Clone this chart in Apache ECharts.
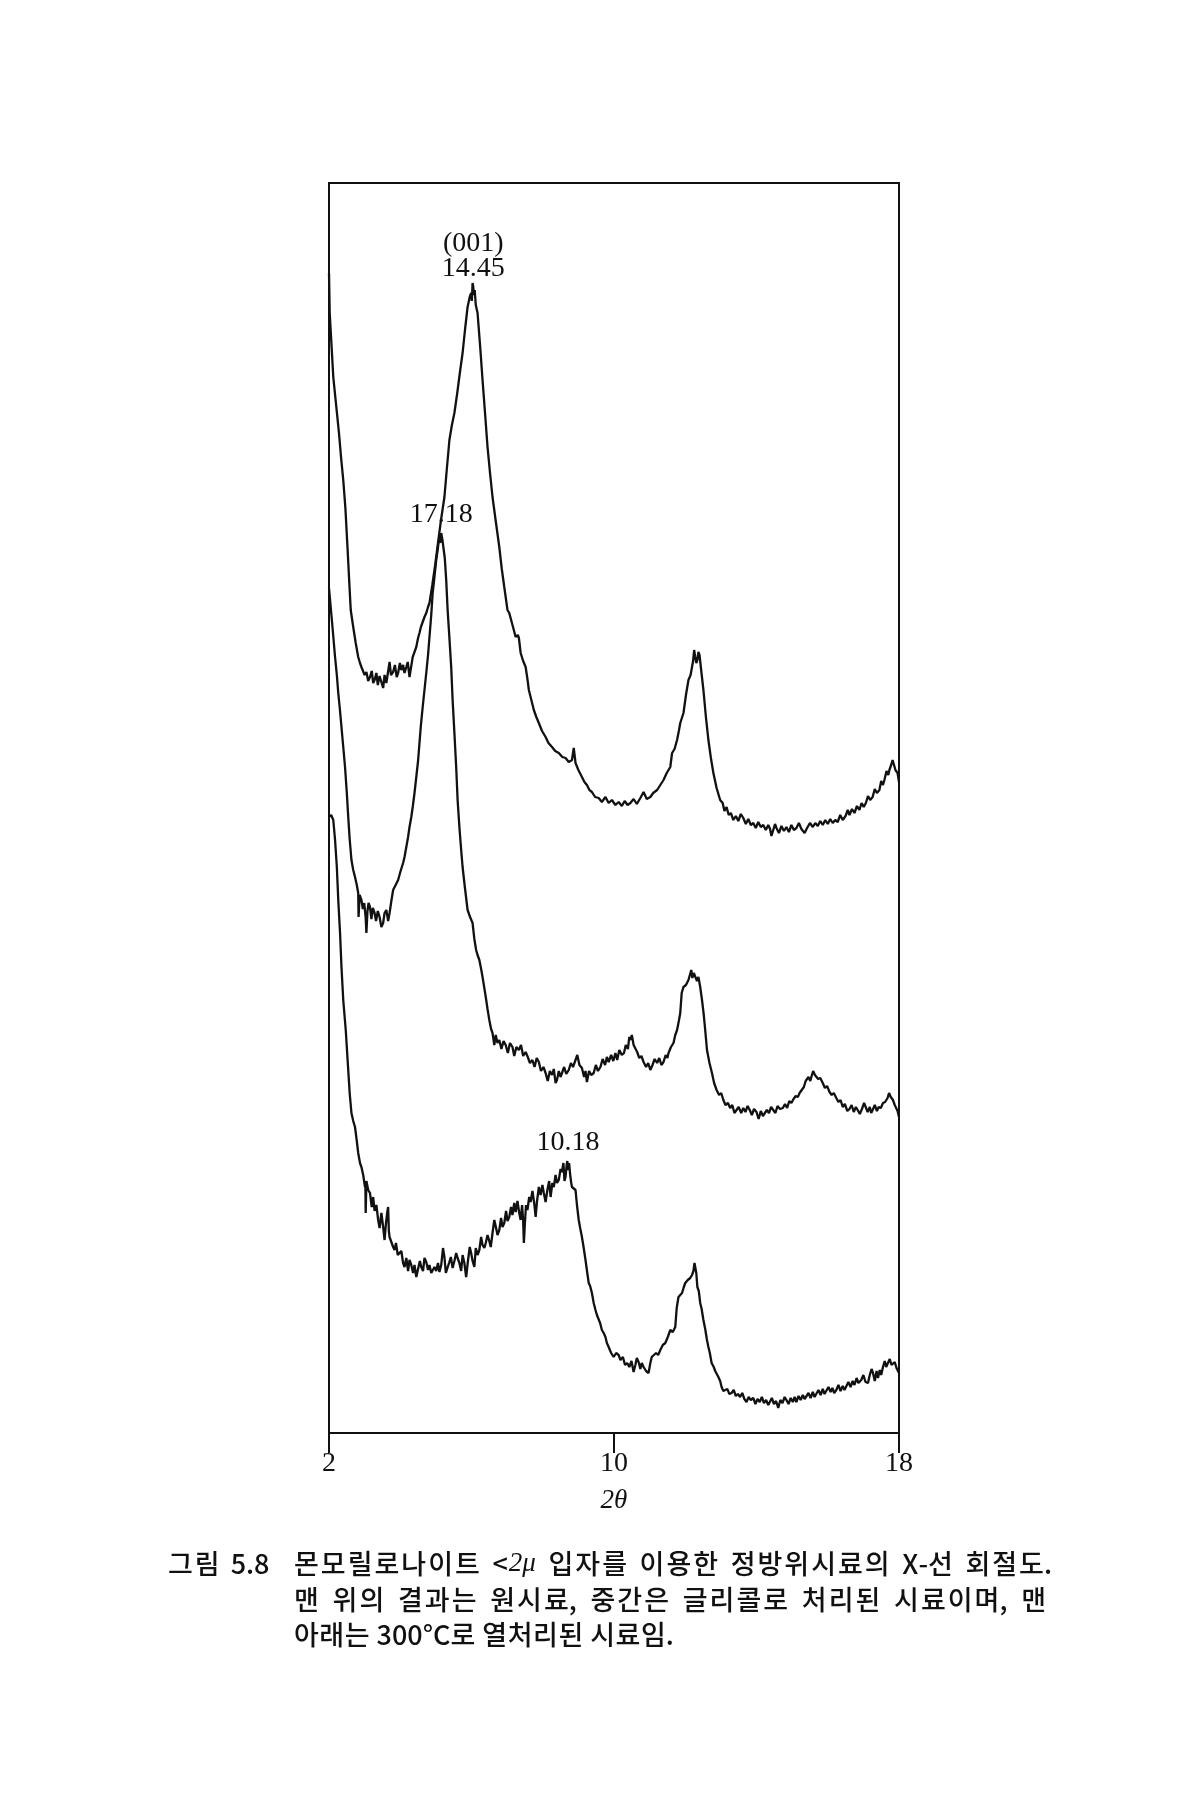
<!DOCTYPE html>
<html>
<head>
<meta charset="utf-8">
<script src="https://cdn.jsdelivr.net/npm/echarts@6/dist/echarts.min.js"></script>
<style>
html,body{margin:0;padding:0;background:#fff;}
#chart{width:1200px;height:1800px;}
</style>
</head>
<body>
<div id="chart"></div>
<script>
// ---- data (2θ in degrees, intensity in arbitrary units) ----
const originalSample = [[2.00,1160],[2.02,1120],[2.07,1088],[2.12,1056],[2.20,1028],[2.28,1000],[2.34,975],[2.40,953],[2.46,925],[2.52,885],[2.57,850],[2.61,823],[2.68,806],[2.75,790],[2.82,776],[2.87,770],[2.91,766],[2.96,764],[3.00,758],[3.05,761],[3.10,752],[3.15,756],[3.20,762],[3.24,750],[3.28,753],[3.33,760],[3.37,748],[3.42,757],[3.47,751],[3.52,745],[3.56,758],[3.61,750],[3.66,752],[3.70,771],[3.74,758],[3.80,761],[3.85,768],[3.90,756],[3.94,760],[3.99,770],[4.03,763],[4.08,768],[4.12,760],[4.17,766],[4.21,771],[4.26,756],[4.30,765],[4.35,776],[4.40,781],[4.45,786],[4.50,795],[4.54,800],[4.58,806],[4.63,811],[4.68,816],[4.73,820],[4.78,826],[4.82,830],[4.90,848],[4.98,868],[5.06,890],[5.14,912],[5.24,936],[5.31,965],[5.38,993],[5.45,1008],[5.52,1020],[5.60,1040],[5.68,1062],[5.75,1080],[5.82,1104],[5.89,1126],[5.95,1136],[5.99,1140],[6.01,1132],[6.03,1150],[6.05,1146],[6.07,1138],[6.09,1143],[6.12,1128],[6.17,1120],[6.24,1088],[6.31,1053],[6.38,1020],[6.45,986],[6.52,960],[6.59,936],[6.68,912],[6.78,886],[6.85,864],[6.92,846],[7.01,823],[7.06,820],[7.15,808],[7.24,796],[7.30,798],[7.33,795],[7.38,780],[7.45,772],[7.52,766],[7.57,754],[7.61,743],[7.68,733],[7.75,723],[7.82,716],[7.89,710],[7.98,702],[8.08,696],[8.16,690],[8.26,686],[8.35,682],[8.45,680],[8.55,676],[8.64,675],[8.73,671],[8.82,673],[8.87,685],[8.92,670],[9.00,663],[9.10,656],[9.17,651],[9.24,648],[9.31,643],[9.38,641],[9.47,636],[9.57,635],[9.66,631],[9.76,636],[9.85,630],[9.94,633],[10.04,628],[10.13,631],[10.22,627],[10.30,632],[10.38,628],[10.46,630],[10.55,634],[10.64,629],[10.74,635],[10.83,641],[10.92,634],[11.02,636],[11.10,640],[11.21,643],[11.30,648],[11.39,653],[11.48,660],[11.58,666],[11.63,680],[11.70,684],[11.77,693],[11.82,702],[11.86,710],[11.95,720],[12.02,738],[12.09,753],[12.15,758],[12.19,760],[12.22,772],[12.25,783],[12.28,776],[12.31,770],[12.34,773],[12.37,781],[12.40,778],[12.45,762],[12.51,743],[12.58,716],[12.65,693],[12.72,675],[12.79,660],[12.88,645],[12.98,633],[13.05,630],[13.10,622],[13.16,626],[13.22,618],[13.28,620],[13.35,613],[13.42,617],[13.49,612],[13.56,619],[13.63,615],[13.70,609],[13.77,614],[13.84,608],[13.91,610],[13.98,605],[14.05,611],[14.12,606],[14.19,608],[14.26,603],[14.33,608],[14.38,604],[14.42,597],[14.47,603],[14.52,609],[14.56,605],[14.63,600],[14.70,607],[14.77,602],[14.84,606],[14.91,601],[14.98,608],[15.05,603],[15.12,605],[15.19,610],[15.26,604],[15.31,606],[15.35,600],[15.42,605],[15.50,610],[15.58,606],[15.65,610],[15.72,607],[15.79,612],[15.86,608],[15.93,613],[16.00,609],[16.07,614],[16.14,610],[16.21,613],[16.28,611],[16.35,618],[16.42,613],[16.50,617],[16.56,623],[16.61,618],[16.68,624],[16.75,620],[16.82,627],[16.89,623],[16.95,630],[17.01,626],[17.07,630],[17.13,637],[17.19,633],[17.26,636],[17.32,644],[17.38,640],[17.45,643],[17.50,652],[17.55,648],[17.59,653],[17.65,662],[17.70,658],[17.73,663],[17.78,668],[17.82,673],[17.86,668],[17.90,663],[17.96,660],[18.00,651]];

const glycolSample = [[2.00,845],[2.03,833],[2.10,805],[2.17,776],[2.22,758],[2.26,740],[2.31,722],[2.35,706],[2.40,686],[2.45,666],[2.50,640],[2.54,616],[2.58,594],[2.63,573],[2.68,563],[2.73,556],[2.78,548],[2.82,540],[2.83,516],[2.86,538],[2.91,533],[2.95,524],[2.99,530],[3.03,515],[3.05,500],[3.08,522],[3.11,530],[3.15,526],[3.19,514],[3.23,525],[3.28,520],[3.32,512],[3.37,522],[3.42,516],[3.47,506],[3.52,510],[3.56,520],[3.61,523],[3.66,512],[3.70,520],[3.75,532],[3.80,543],[3.87,548],[3.94,553],[4.01,562],[4.08,570],[4.12,576],[4.17,586],[4.22,596],[4.26,606],[4.31,616],[4.35,626],[4.40,640],[4.45,656],[4.50,672],[4.54,690],[4.58,708],[4.63,726],[4.68,743],[4.73,760],[4.78,778],[4.82,796],[4.87,818],[4.91,840],[4.96,856],[5.01,873],[5.05,883],[5.08,892],[5.10,896],[5.12,890],[5.15,900],[5.18,894],[5.21,896],[5.25,875],[5.29,853],[5.33,823],[5.38,795],[5.43,766],[5.47,733],[5.52,700],[5.57,666],[5.61,633],[5.66,606],[5.71,583],[5.75,566],[5.80,550],[5.85,535],[5.89,523],[5.96,516],[6.03,510],[6.08,494],[6.13,483],[6.17,478],[6.22,473],[6.27,464],[6.31,456],[6.36,445],[6.40,436],[6.45,424],[6.50,413],[6.55,404],[6.59,400],[6.64,388],[6.68,398],[6.73,390],[6.78,393],[6.84,384],[6.90,392],[6.96,388],[7.02,380],[7.08,390],[7.15,386],[7.20,377],[7.26,386],[7.33,383],[7.39,388],[7.45,377],[7.52,381],[7.58,376],[7.64,370],[7.71,373],[7.77,366],[7.83,375],[7.89,371],[7.95,362],[8.02,366],[8.08,360],[8.14,352],[8.20,362],[8.26,358],[8.31,364],[8.36,350],[8.40,353],[8.45,362],[8.50,356],[8.54,360],[8.60,366],[8.66,359],[8.73,363],[8.79,370],[8.85,366],[8.92,373],[8.97,378],[9.03,368],[9.10,365],[9.16,356],[9.20,362],[9.24,351],[9.30,362],[9.36,358],[9.43,360],[9.49,368],[9.55,362],[9.62,366],[9.68,374],[9.75,368],[9.80,376],[9.85,371],[9.92,378],[9.98,372],[10.04,380],[10.09,373],[10.15,383],[10.22,378],[10.28,380],[10.33,388],[10.39,384],[10.43,396],[10.46,393],[10.50,398],[10.55,388],[10.60,386],[10.65,381],[10.71,375],[10.77,377],[10.83,371],[10.90,366],[10.96,370],[11.02,363],[11.08,368],[11.14,374],[11.21,370],[11.27,375],[11.33,368],[11.39,371],[11.45,378],[11.50,375],[11.53,380],[11.60,386],[11.67,390],[11.72,398],[11.77,403],[11.82,412],[11.86,420],[11.90,440],[11.95,446],[12.02,448],[12.09,453],[12.13,458],[12.17,463],[12.20,455],[12.24,460],[12.28,458],[12.33,452],[12.37,456],[12.42,446],[12.47,433],[12.52,418],[12.56,403],[12.61,383],[12.68,370],[12.75,360],[12.81,350],[12.88,343],[12.95,338],[13.01,340],[13.07,333],[13.13,328],[13.20,330],[13.26,325],[13.32,328],[13.38,320],[13.44,323],[13.50,326],[13.57,320],[13.63,325],[13.69,321],[13.75,327],[13.81,323],[13.87,318],[13.93,324],[14.00,321],[14.06,314],[14.12,322],[14.18,317],[14.23,318],[14.29,323],[14.35,320],[14.41,326],[14.47,323],[14.53,320],[14.59,327],[14.66,324],[14.74,325],[14.80,329],[14.86,325],[14.92,332],[14.98,330],[15.04,334],[15.10,337],[15.16,336],[15.21,340],[15.27,343],[15.33,346],[15.38,352],[15.40,350],[15.46,356],[15.51,352],[15.54,356],[15.59,362],[15.64,358],[15.68,360],[15.73,354],[15.79,355],[15.86,350],[15.92,345],[15.98,347],[16.05,341],[16.11,338],[16.17,340],[16.24,335],[16.30,331],[16.36,333],[16.42,326],[16.48,329],[16.55,322],[16.61,324],[16.67,328],[16.73,321],[16.79,326],[16.84,323],[16.90,319],[16.96,324],[17.02,330],[17.07,328],[17.12,321],[17.18,326],[17.22,320],[17.26,323],[17.32,328],[17.38,322],[17.43,326],[17.49,325],[17.55,330],[17.61,331],[17.68,335],[17.72,340],[17.77,336],[17.83,333],[17.88,328],[17.91,326],[17.96,322],[18.00,316]];

const heatedSample = [[2.00,616],[2.06,618],[2.12,613],[2.17,593],[2.22,566],[2.26,533],[2.31,500],[2.35,466],[2.40,433],[2.47,403],[2.54,363],[2.58,340],[2.63,320],[2.68,312],[2.73,306],[2.78,292],[2.82,280],[2.87,270],[2.91,266],[2.96,258],[3.01,246],[3.02,250],[3.03,220],[3.05,252],[3.10,243],[3.15,240],[3.20,226],[3.24,236],[3.28,222],[3.33,228],[3.38,213],[3.42,205],[3.47,220],[3.52,206],[3.56,193],[3.60,210],[3.64,222],[3.66,226],[3.68,202],[3.70,196],[3.75,195],[3.80,186],[3.84,183],[3.88,190],[3.93,178],[3.98,176],[4.03,182],[4.08,170],[4.12,166],[4.17,175],[4.22,162],[4.26,173],[4.31,168],[4.36,160],[4.40,168],[4.45,156],[4.50,164],[4.55,172],[4.59,166],[4.64,162],[4.68,175],[4.73,171],[4.78,163],[4.82,168],[4.87,160],[4.91,158],[4.96,166],[5.01,162],[5.06,170],[5.10,161],[5.15,168],[5.20,185],[5.24,176],[5.28,160],[5.33,158],[5.37,170],[5.42,176],[5.47,165],[5.52,172],[5.57,180],[5.61,175],[5.66,170],[5.71,162],[5.75,178],[5.80,170],[5.85,156],[5.90,172],[5.95,186],[5.99,180],[6.03,172],[6.08,166],[6.12,185],[6.17,178],[6.22,183],[6.27,196],[6.31,188],[6.36,185],[6.40,190],[6.45,198],[6.50,192],[6.54,186],[6.59,200],[6.64,213],[6.69,205],[6.73,198],[6.78,203],[6.83,215],[6.87,206],[6.92,210],[6.97,222],[7.01,212],[7.06,216],[7.11,226],[7.15,218],[7.20,230],[7.24,221],[7.29,232],[7.34,220],[7.38,213],[7.42,228],[7.45,212],[7.47,190],[7.50,210],[7.53,228],[7.57,223],[7.62,236],[7.66,231],[7.71,242],[7.76,230],[7.80,216],[7.84,232],[7.89,246],[7.94,238],[7.99,248],[8.03,240],[8.08,231],[8.13,243],[8.18,252],[8.22,236],[8.27,250],[8.31,246],[8.36,258],[8.40,250],[8.45,253],[8.50,264],[8.54,261],[8.58,270],[8.61,252],[8.64,256],[8.67,268],[8.69,272],[8.71,263],[8.74,270],[8.77,258],[8.80,250],[8.82,246],[8.87,248],[8.92,243],[8.96,228],[9.01,213],[9.05,205],[9.10,196],[9.15,185],[9.20,173],[9.25,160],[9.29,150],[9.33,147],[9.38,140],[9.43,130],[9.48,123],[9.52,118],[9.57,120],[9.61,110],[9.66,103],[9.71,100],[9.76,96],[9.80,90],[9.85,86],[9.92,80],[9.99,76],[10.06,80],[10.13,78],[10.18,73],[10.25,76],[10.31,68],[10.37,70],[10.43,66],[10.49,72],[10.55,61],[10.60,68],[10.64,75],[10.69,71],[10.74,64],[10.78,70],[10.83,66],[10.90,62],[10.97,60],[11.02,70],[11.06,76],[11.11,76],[11.18,80],[11.24,78],[11.30,83],[11.37,88],[11.44,90],[11.51,96],[11.58,103],[11.65,101],[11.72,106],[11.76,125],[11.81,136],[11.86,138],[11.91,140],[11.96,146],[12.00,150],[12.07,153],[12.14,155],[12.19,158],[12.23,162],[12.26,170],[12.28,166],[12.31,160],[12.34,146],[12.38,142],[12.42,130],[12.46,124],[12.51,113],[12.56,104],[12.61,93],[12.65,86],[12.69,80],[12.74,70],[12.80,66],[12.84,62],[12.88,60],[12.93,56],[12.98,52],[13.02,46],[13.07,42],[13.12,41],[13.18,44],[13.24,39],[13.30,40],[13.36,43],[13.42,37],[13.48,39],[13.54,36],[13.60,40],[13.66,34],[13.72,31],[13.78,36],[13.84,33],[13.91,35],[13.97,29],[14.03,34],[14.09,31],[14.15,36],[14.21,30],[14.27,33],[14.33,28],[14.37,30],[14.43,35],[14.49,29],[14.55,32],[14.61,25],[14.67,33],[14.73,30],[14.79,36],[14.84,33],[14.90,29],[14.96,35],[15.02,31],[15.07,36],[15.12,31],[15.18,37],[15.24,33],[15.30,38],[15.35,34],[15.40,35],[15.46,40],[15.52,35],[15.58,41],[15.63,36],[15.68,38],[15.74,43],[15.80,38],[15.86,44],[15.91,39],[15.96,40],[16.02,46],[16.08,41],[16.13,45],[16.18,40],[16.24,43],[16.30,48],[16.36,42],[16.42,47],[16.47,43],[16.52,45],[16.58,51],[16.64,46],[16.70,52],[16.75,48],[16.81,55],[16.86,50],[16.94,53],[17.00,58],[17.06,51],[17.13,50],[17.18,58],[17.23,64],[17.27,60],[17.32,52],[17.37,62],[17.41,55],[17.46,63],[17.50,58],[17.55,66],[17.60,72],[17.64,66],[17.69,70],[17.74,74],[17.79,68],[17.83,66],[17.88,71],[17.93,65],[17.96,63],[18.00,60]];

// peak annotations: [2θ, intensity, text]
const originalPeak = [6.05, 1146, "(001)\n14.45"];
const glycolPeak   = [5.15, 900, "17.18"];
const heatedPeak   = [8.71, 272, "10.18"];

const xTicks = [2, 10, 18];
const xAxisTitle = "2θ";

const captionLabel = "그림 5.8";
const captionLines = [
  ["몬모릴로나이트", "<2μ", "입자를", "이용한", "정방위시료의", "X-선", "회절도."],
  ["맨", "위의", "결과는", "원시료,", "중간은", "글리콜로", "처리된", "시료이며,", "맨"],
  ["아래는", "300°C로", "열처리된", "시료임."]
];

// ---- chart ----
const serif = '"Liberation Serif", "DejaVu Serif", serif';
const captionFont = '500 27px "Noto Sans CJK KR", sans-serif';
const italicFont = 'italic 27px "Liberation Serif", serif';
const letterGap = 2;

function peakMark(p) {
  return {
    symbol: 'circle', symbolSize: 1,
    itemStyle: { color: 'rgba(0,0,0,0)' },
    label: {
      show: true, position: 'top', distance: 5,
      color: '#111', fontFamily: serif, fontSize: 28, lineHeight: 25,
      formatter: p[2]
    },
    data: [{ coord: [p[0], p[1]], value: p[2] }]
  };
}

function lineSeries(name, data, peak) {
  return {
    name, type: 'line', data, showSymbol: false, symbol: 'none',
    lineStyle: { color: '#111', width: 2.3 },
    animation: false, silent: true,
    markPoint: peakMark(peak)
  };
}

// caption layout: letter-spaced Hangul, words justified between line bounds
const meas = document.createElement('canvas').getContext('2d');
function textWidth(t, f) { meas.font = f; return meas.measureText(t).width; }
const isHangul = c => /[\uac00-\ud7a3]/.test(c);
function wordPieces(w, spacing) {
  if (w === '<2μ') {
    const wa = textWidth('<', captionFont);
    const wb = textWidth('2μ', italicFont);
    return {
      width: wa + 1 + wb,
      pieces: [
        { dx: 0, style: { text: '<', font: captionFont } },
        { dx: wa + 1, style: { text: '2μ', font: italicFont } }
      ]
    };
  }
  const chars = Array.from(w);
  const pieces = [];
  let dx = 0;
  chars.forEach((c, k) => {
    pieces.push({ dx, style: { text: c, font: captionFont } });
    dx += textWidth(c, captionFont);
    if (k < chars.length - 1 && isHangul(c) && isHangul(chars[k + 1])) dx += spacing;
  });
  return { width: dx, pieces };
}

// [x start, x end (null = natural spacing), y centre, letter spacing]
const lineBounds = [[294, 1052, 1564, letterGap], [294, 1046, 1600, letterGap], [294, null, 1635, 0.5]];
const naturalGap = 7;
const graphics = [];
(function () {
  const parts = captionLabel.split(' ');
  const lab = wordPieces(parts[0], letterGap);
  lab.pieces.forEach(p => graphics.push({ type: 'text', x: 168 + p.dx, y: 1564,
    style: Object.assign({ fill: '#111', verticalAlign: 'middle', align: 'left' }, p.style) }));
  graphics.push({ type: 'text', x: 168 + lab.width + 11, y: 1564,
    style: { text: parts[1], font: captionFont, fill: '#111', verticalAlign: 'middle', align: 'left' } });
})();
captionLines.forEach((words, i) => {
  const [x0, x1, yc, sp] = lineBounds[i];
  const infos = words.map(w => wordPieces(w, sp));
  const total = infos.reduce((a, b) => a + b.width, 0);
  const gap = x1 === null ? naturalGap : (x1 - x0 - total) / (words.length - 1);
  let x = x0;
  infos.forEach(info => {
    info.pieces.forEach(p => {
      graphics.push({
        type: 'text', x: x + p.dx, y: yc,
        style: Object.assign({ fill: '#111', verticalAlign: 'middle', align: 'left' }, p.style)
      });
    });
    x += info.width + gap;
  });
});

const chart = echarts.init(document.getElementById('chart'), null, { renderer: 'canvas' });
chart.setOption({
  backgroundColor: '#ffffff',
  animation: false,
  grid: {
    left: 329, top: 183, width: 570, height: 1250,
    show: true, borderColor: '#111', borderWidth: 2, backgroundColor: 'transparent'
  },
  xAxis: {
    type: 'value', min: xTicks[0], max: xTicks[xTicks.length - 1], interval: xTicks[1] - xTicks[0],
    axisLine: { show: true, lineStyle: { color: '#111', width: 2 } },
    axisTick: { show: true, inside: false, length: 20, lineStyle: { color: '#111', width: 2 } },
    axisLabel: { show: true, margin: 17, color: '#111', fontFamily: serif, fontSize: 28 },
    splitLine: { show: false },
    name: xAxisTitle, nameLocation: 'middle', nameGap: 54,
    nameTextStyle: { color: '#111', fontFamily: serif, fontSize: 27, fontStyle: 'italic' }
  },
  yAxis: { type: 'value', min: 0, max: 1250, show: false, splitLine: { show: false } },
  series: [
    lineSeries('원시료', originalSample, originalPeak),
    lineSeries('글리콜 처리', glycolSample, glycolPeak),
    lineSeries('300°C 열처리', heatedSample, heatedPeak)
  ],
  graphic: graphics
});
</script>
</body>
</html>
